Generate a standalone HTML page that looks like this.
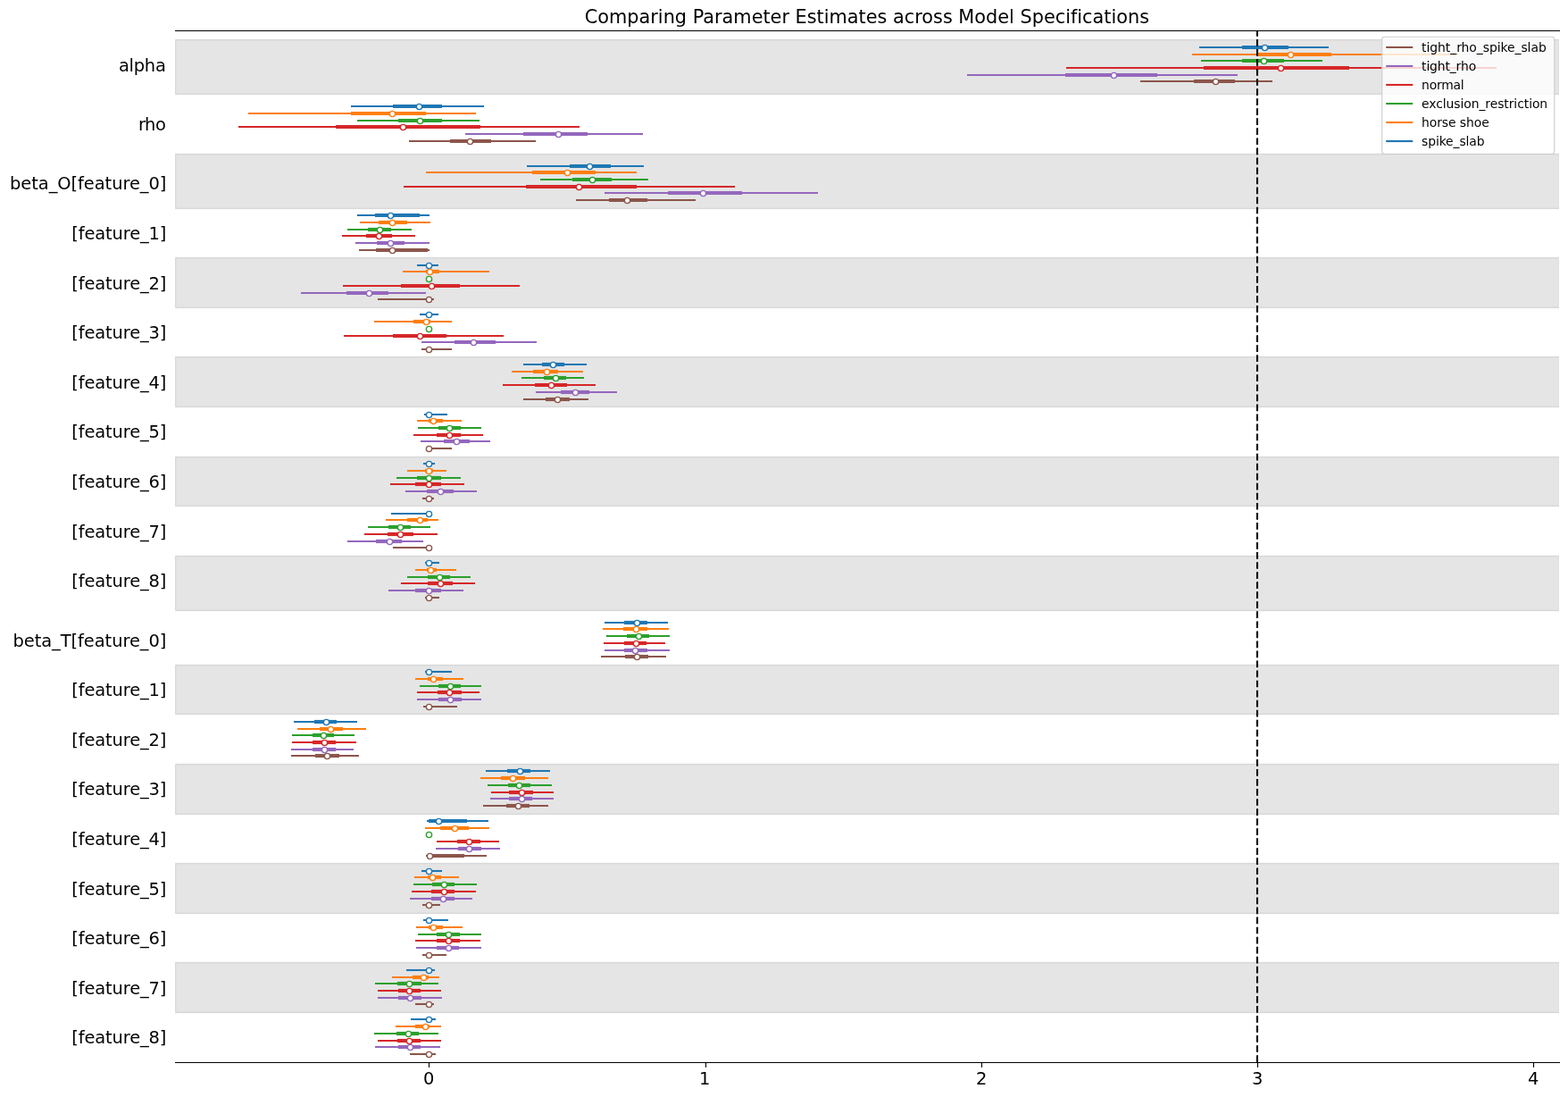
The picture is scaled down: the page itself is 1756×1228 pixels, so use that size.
<!DOCTYPE html>
<html lang="en"><head><meta charset="utf-8"><title>Comparing Parameter Estimates across Model Specifications</title>
<style>html,body{margin:0;padding:0;background:#fff}body{width:1756px;height:1228px;overflow:hidden}svg{display:block}text{font-family:"DejaVu Sans","Liberation Sans",sans-serif;fill:#000;font-variant-ligatures:none}</style></head><body>
<svg width="1756" height="1228" viewBox="0 0 1756 1228">
<rect width="1756" height="1228" fill="#fff"/>
<clipPath id="ax"><rect x="196" y="34" width="1550" height="1156"/></clipPath>
<g fill="#000" fill-opacity="0.1" stroke="#000" stroke-opacity="0.1" stroke-width="1.389" clip-path="url(#ax)">
<rect x="196.5" y="44.5" width="1550.0" height="61.0"/>
<rect x="196.5" y="172.5" width="1550.0" height="61.0"/>
<rect x="196.5" y="288.5" width="1550.0" height="56.0"/>
<rect x="196.5" y="399.5" width="1550.0" height="56.0"/>
<rect x="196.5" y="511.5" width="1550.0" height="55.0"/>
<rect x="196.5" y="622.5" width="1550.0" height="61.0"/>
<rect x="196.5" y="744.5" width="1550.0" height="55.0"/>
<rect x="196.5" y="855.5" width="1550.0" height="56.0"/>
<rect x="196.5" y="966.5" width="1550.0" height="56.0"/>
<rect x="196.5" y="1077.5" width="1550.0" height="56.0"/>
</g>
<g fill="none">
<path d="M1343 53H1488" stroke="#1f77b4" stroke-width="2.083"/>
<path d="M1391 53H1443" stroke="#1f77b4" stroke-width="4.167"/>
<path d="M1335 61H1633" stroke="#ff7f0e" stroke-width="2.083"/>
<path d="M1409 61H1491" stroke="#ff7f0e" stroke-width="4.167"/>
<path d="M1345 68H1481" stroke="#2ca02c" stroke-width="2.083"/>
<path d="M1391 68H1438" stroke="#2ca02c" stroke-width="4.167"/>
<path d="M1194 76H1676" stroke="#d62728" stroke-width="2.083"/>
<path d="M1348 76H1511" stroke="#d62728" stroke-width="4.167"/>
<path d="M1083 84H1386" stroke="#9467bd" stroke-width="2.083"/>
<path d="M1193 84H1296" stroke="#9467bd" stroke-width="4.167"/>
<path d="M1277 91H1425" stroke="#8c564b" stroke-width="2.083"/>
<path d="M1337 91H1383" stroke="#8c564b" stroke-width="4.167"/>
<path d="M393 119H542" stroke="#1f77b4" stroke-width="2.083"/>
<path d="M440 119H495" stroke="#1f77b4" stroke-width="4.167"/>
<path d="M278 127H533" stroke="#ff7f0e" stroke-width="2.083"/>
<path d="M393 127H477" stroke="#ff7f0e" stroke-width="4.167"/>
<path d="M400 135H537" stroke="#2ca02c" stroke-width="2.083"/>
<path d="M446 135H495" stroke="#2ca02c" stroke-width="4.167"/>
<path d="M267 142H649" stroke="#d62728" stroke-width="2.083"/>
<path d="M376 142H538" stroke="#d62728" stroke-width="4.167"/>
<path d="M521 150H720" stroke="#9467bd" stroke-width="2.083"/>
<path d="M586 150H658" stroke="#9467bd" stroke-width="4.167"/>
<path d="M458 158H600" stroke="#8c564b" stroke-width="2.083"/>
<path d="M504 158H550" stroke="#8c564b" stroke-width="4.167"/>
<path d="M590 186H721" stroke="#1f77b4" stroke-width="2.083"/>
<path d="M638 186H684" stroke="#1f77b4" stroke-width="4.167"/>
<path d="M477 193H713" stroke="#ff7f0e" stroke-width="2.083"/>
<path d="M596 193H667" stroke="#ff7f0e" stroke-width="4.167"/>
<path d="M605 201H726" stroke="#2ca02c" stroke-width="2.083"/>
<path d="M641 201H685" stroke="#2ca02c" stroke-width="4.167"/>
<path d="M452 209H823" stroke="#d62728" stroke-width="2.083"/>
<path d="M589 209H713" stroke="#d62728" stroke-width="4.167"/>
<path d="M677 216H916" stroke="#9467bd" stroke-width="2.083"/>
<path d="M748 216H831" stroke="#9467bd" stroke-width="4.167"/>
<path d="M645 224H779" stroke="#8c564b" stroke-width="2.083"/>
<path d="M682 224H725" stroke="#8c564b" stroke-width="4.167"/>
<path d="M400 241H481" stroke="#1f77b4" stroke-width="2.083"/>
<path d="M420 241H470" stroke="#1f77b4" stroke-width="4.167"/>
<path d="M403 249H482" stroke="#ff7f0e" stroke-width="2.083"/>
<path d="M424 249H456" stroke="#ff7f0e" stroke-width="4.167"/>
<path d="M389 257H461" stroke="#2ca02c" stroke-width="2.083"/>
<path d="M412 257H438" stroke="#2ca02c" stroke-width="4.167"/>
<path d="M383 264H465" stroke="#d62728" stroke-width="2.083"/>
<path d="M410 264H439" stroke="#d62728" stroke-width="4.167"/>
<path d="M398 272H481" stroke="#9467bd" stroke-width="2.083"/>
<path d="M422 272H453" stroke="#9467bd" stroke-width="4.167"/>
<path d="M402 280H481" stroke="#8c564b" stroke-width="2.083"/>
<path d="M421 280H479" stroke="#8c564b" stroke-width="4.167"/>
<path d="M467 297H491" stroke="#1f77b4" stroke-width="2.083"/>
<path d="M451 304H548" stroke="#ff7f0e" stroke-width="2.083"/>
<path d="M477 304H492" stroke="#ff7f0e" stroke-width="4.167"/>
<path d="M384 320H582" stroke="#d62728" stroke-width="2.083"/>
<path d="M449 320H515" stroke="#d62728" stroke-width="4.167"/>
<path d="M337 328H477" stroke="#9467bd" stroke-width="2.083"/>
<path d="M388 328H435" stroke="#9467bd" stroke-width="4.167"/>
<path d="M423 335H486" stroke="#8c564b" stroke-width="2.083"/>
<path d="M470 352H491" stroke="#1f77b4" stroke-width="2.083"/>
<path d="M419 360H506" stroke="#ff7f0e" stroke-width="2.083"/>
<path d="M463 360H482" stroke="#ff7f0e" stroke-width="4.167"/>
<path d="M385 376H564" stroke="#d62728" stroke-width="2.083"/>
<path d="M440 376H500" stroke="#d62728" stroke-width="4.167"/>
<path d="M472 383H601" stroke="#9467bd" stroke-width="2.083"/>
<path d="M509 383H555" stroke="#9467bd" stroke-width="4.167"/>
<path d="M472 391H506" stroke="#8c564b" stroke-width="2.083"/>
<path d="M586 408H657" stroke="#1f77b4" stroke-width="2.083"/>
<path d="M607 408H632" stroke="#1f77b4" stroke-width="4.167"/>
<path d="M573 416H653" stroke="#ff7f0e" stroke-width="2.083"/>
<path d="M597 416H625" stroke="#ff7f0e" stroke-width="4.167"/>
<path d="M584 423H654" stroke="#2ca02c" stroke-width="2.083"/>
<path d="M609 423H634" stroke="#2ca02c" stroke-width="4.167"/>
<path d="M563 431H667" stroke="#d62728" stroke-width="2.083"/>
<path d="M599 431H635" stroke="#d62728" stroke-width="4.167"/>
<path d="M600 439H691" stroke="#9467bd" stroke-width="2.083"/>
<path d="M628 439H660" stroke="#9467bd" stroke-width="4.167"/>
<path d="M586 447H659" stroke="#8c564b" stroke-width="2.083"/>
<path d="M611 447H638" stroke="#8c564b" stroke-width="4.167"/>
<path d="M475 464H501" stroke="#1f77b4" stroke-width="2.083"/>
<path d="M467 471H517" stroke="#ff7f0e" stroke-width="2.083"/>
<path d="M480 471H496" stroke="#ff7f0e" stroke-width="4.167"/>
<path d="M468 479H539" stroke="#2ca02c" stroke-width="2.083"/>
<path d="M491 479H516" stroke="#2ca02c" stroke-width="4.167"/>
<path d="M463 487H541" stroke="#d62728" stroke-width="2.083"/>
<path d="M489 487H516" stroke="#d62728" stroke-width="4.167"/>
<path d="M471 494H549" stroke="#9467bd" stroke-width="2.083"/>
<path d="M497 494H526" stroke="#9467bd" stroke-width="4.167"/>
<path d="M477 502H506" stroke="#8c564b" stroke-width="2.083"/>
<path d="M474 519H487" stroke="#1f77b4" stroke-width="2.083"/>
<path d="M456 527H500" stroke="#ff7f0e" stroke-width="2.083"/>
<path d="M476 527H485" stroke="#ff7f0e" stroke-width="4.167"/>
<path d="M444 535H516" stroke="#2ca02c" stroke-width="2.083"/>
<path d="M467 535H494" stroke="#2ca02c" stroke-width="4.167"/>
<path d="M437 542H520" stroke="#d62728" stroke-width="2.083"/>
<path d="M465 542H494" stroke="#d62728" stroke-width="4.167"/>
<path d="M454 550H534" stroke="#9467bd" stroke-width="2.083"/>
<path d="M478 550H508" stroke="#9467bd" stroke-width="4.167"/>
<path d="M473 558H486" stroke="#8c564b" stroke-width="2.083"/>
<path d="M438 575H480" stroke="#1f77b4" stroke-width="2.083"/>
<path d="M432 582H491" stroke="#ff7f0e" stroke-width="2.083"/>
<path d="M456 582H479" stroke="#ff7f0e" stroke-width="4.167"/>
<path d="M412 590H482" stroke="#2ca02c" stroke-width="2.083"/>
<path d="M435 590H460" stroke="#2ca02c" stroke-width="4.167"/>
<path d="M408 598H490" stroke="#d62728" stroke-width="2.083"/>
<path d="M434 598H463" stroke="#d62728" stroke-width="4.167"/>
<path d="M389 606H474" stroke="#9467bd" stroke-width="2.083"/>
<path d="M421 606H450" stroke="#9467bd" stroke-width="4.167"/>
<path d="M440 613H480" stroke="#8c564b" stroke-width="2.083"/>
<path d="M476 630H492" stroke="#1f77b4" stroke-width="2.083"/>
<path d="M465 638H511" stroke="#ff7f0e" stroke-width="2.083"/>
<path d="M478 638H489" stroke="#ff7f0e" stroke-width="4.167"/>
<path d="M456 646H527" stroke="#2ca02c" stroke-width="2.083"/>
<path d="M479 646H504" stroke="#2ca02c" stroke-width="4.167"/>
<path d="M449 653H532" stroke="#d62728" stroke-width="2.083"/>
<path d="M479 653H507" stroke="#d62728" stroke-width="4.167"/>
<path d="M435 661H519" stroke="#9467bd" stroke-width="2.083"/>
<path d="M465 661H494" stroke="#9467bd" stroke-width="4.167"/>
<path d="M476 669H492" stroke="#8c564b" stroke-width="2.083"/>
<path d="M677 697H748" stroke="#1f77b4" stroke-width="2.083"/>
<path d="M699 697H725" stroke="#1f77b4" stroke-width="4.167"/>
<path d="M675 704H749" stroke="#ff7f0e" stroke-width="2.083"/>
<path d="M698 704H725" stroke="#ff7f0e" stroke-width="4.167"/>
<path d="M679 712H750" stroke="#2ca02c" stroke-width="2.083"/>
<path d="M702 712H727" stroke="#2ca02c" stroke-width="4.167"/>
<path d="M676 720H745" stroke="#d62728" stroke-width="2.083"/>
<path d="M699 720H724" stroke="#d62728" stroke-width="4.167"/>
<path d="M677 728H750" stroke="#9467bd" stroke-width="2.083"/>
<path d="M699 728H725" stroke="#9467bd" stroke-width="4.167"/>
<path d="M673 735H746" stroke="#8c564b" stroke-width="2.083"/>
<path d="M700 735H726" stroke="#8c564b" stroke-width="4.167"/>
<path d="M476 752H506" stroke="#1f77b4" stroke-width="2.083"/>
<path d="M465 760H519" stroke="#ff7f0e" stroke-width="2.083"/>
<path d="M479 760H496" stroke="#ff7f0e" stroke-width="4.167"/>
<path d="M470 768H539" stroke="#2ca02c" stroke-width="2.083"/>
<path d="M491 768H516" stroke="#2ca02c" stroke-width="4.167"/>
<path d="M467 775H537" stroke="#d62728" stroke-width="2.083"/>
<path d="M490 775H517" stroke="#d62728" stroke-width="4.167"/>
<path d="M467 783H539" stroke="#9467bd" stroke-width="2.083"/>
<path d="M491 783H517" stroke="#9467bd" stroke-width="4.167"/>
<path d="M474 791H512" stroke="#8c564b" stroke-width="2.083"/>
<path d="M329 808H400" stroke="#1f77b4" stroke-width="2.083"/>
<path d="M352 808H377" stroke="#1f77b4" stroke-width="4.167"/>
<path d="M333 816H410" stroke="#ff7f0e" stroke-width="2.083"/>
<path d="M358 816H384" stroke="#ff7f0e" stroke-width="4.167"/>
<path d="M327 823H397" stroke="#2ca02c" stroke-width="2.083"/>
<path d="M350 823H374" stroke="#2ca02c" stroke-width="4.167"/>
<path d="M327 831H399" stroke="#d62728" stroke-width="2.083"/>
<path d="M350 831H376" stroke="#d62728" stroke-width="4.167"/>
<path d="M326 839H396" stroke="#9467bd" stroke-width="2.083"/>
<path d="M350 839H376" stroke="#9467bd" stroke-width="4.167"/>
<path d="M326 846H402" stroke="#8c564b" stroke-width="2.083"/>
<path d="M353 846H380" stroke="#8c564b" stroke-width="4.167"/>
<path d="M544 863H616" stroke="#1f77b4" stroke-width="2.083"/>
<path d="M568 863H594" stroke="#1f77b4" stroke-width="4.167"/>
<path d="M538 871H614" stroke="#ff7f0e" stroke-width="2.083"/>
<path d="M561 871H588" stroke="#ff7f0e" stroke-width="4.167"/>
<path d="M546 879H618" stroke="#2ca02c" stroke-width="2.083"/>
<path d="M569 879H594" stroke="#2ca02c" stroke-width="4.167"/>
<path d="M550 887H620" stroke="#d62728" stroke-width="2.083"/>
<path d="M570 887H597" stroke="#d62728" stroke-width="4.167"/>
<path d="M549 894H620" stroke="#9467bd" stroke-width="2.083"/>
<path d="M570 894H596" stroke="#9467bd" stroke-width="4.167"/>
<path d="M541 902H614" stroke="#8c564b" stroke-width="2.083"/>
<path d="M567 902H593" stroke="#8c564b" stroke-width="4.167"/>
<path d="M478 919H547" stroke="#1f77b4" stroke-width="2.083"/>
<path d="M480 919H523" stroke="#1f77b4" stroke-width="4.167"/>
<path d="M476 927H548" stroke="#ff7f0e" stroke-width="2.083"/>
<path d="M493 927H525" stroke="#ff7f0e" stroke-width="4.167"/>
<path d="M489 942H559" stroke="#d62728" stroke-width="2.083"/>
<path d="M512 942H538" stroke="#d62728" stroke-width="4.167"/>
<path d="M488 950H560" stroke="#9467bd" stroke-width="2.083"/>
<path d="M513 950H539" stroke="#9467bd" stroke-width="4.167"/>
<path d="M477 958H545" stroke="#8c564b" stroke-width="2.083"/>
<path d="M480 958H520" stroke="#8c564b" stroke-width="4.167"/>
<path d="M472 975H495" stroke="#1f77b4" stroke-width="2.083"/>
<path d="M464 982H514" stroke="#ff7f0e" stroke-width="2.083"/>
<path d="M479 982H494" stroke="#ff7f0e" stroke-width="4.167"/>
<path d="M463 990H534" stroke="#2ca02c" stroke-width="2.083"/>
<path d="M484 990H509" stroke="#2ca02c" stroke-width="4.167"/>
<path d="M461 998H533" stroke="#d62728" stroke-width="2.083"/>
<path d="M483 998H509" stroke="#d62728" stroke-width="4.167"/>
<path d="M459 1006H529" stroke="#9467bd" stroke-width="2.083"/>
<path d="M483 1006H509" stroke="#9467bd" stroke-width="4.167"/>
<path d="M473 1013H493" stroke="#8c564b" stroke-width="2.083"/>
<path d="M474 1030H502" stroke="#1f77b4" stroke-width="2.083"/>
<path d="M466 1038H518" stroke="#ff7f0e" stroke-width="2.083"/>
<path d="M480 1038H496" stroke="#ff7f0e" stroke-width="4.167"/>
<path d="M468 1046H539" stroke="#2ca02c" stroke-width="2.083"/>
<path d="M489 1046H515" stroke="#2ca02c" stroke-width="4.167"/>
<path d="M465 1053H538" stroke="#d62728" stroke-width="2.083"/>
<path d="M489 1053H515" stroke="#d62728" stroke-width="4.167"/>
<path d="M466 1061H539" stroke="#9467bd" stroke-width="2.083"/>
<path d="M489 1061H514" stroke="#9467bd" stroke-width="4.167"/>
<path d="M473 1069H500" stroke="#8c564b" stroke-width="2.083"/>
<path d="M455 1086H487" stroke="#1f77b4" stroke-width="2.083"/>
<path d="M439 1094H492" stroke="#ff7f0e" stroke-width="2.083"/>
<path d="M462 1094H480" stroke="#ff7f0e" stroke-width="4.167"/>
<path d="M420 1101H491" stroke="#2ca02c" stroke-width="2.083"/>
<path d="M445 1101H472" stroke="#2ca02c" stroke-width="4.167"/>
<path d="M423 1109H494" stroke="#d62728" stroke-width="2.083"/>
<path d="M446 1109H471" stroke="#d62728" stroke-width="4.167"/>
<path d="M423 1117H495" stroke="#9467bd" stroke-width="2.083"/>
<path d="M446 1117H472" stroke="#9467bd" stroke-width="4.167"/>
<path d="M465 1124H486" stroke="#8c564b" stroke-width="2.083"/>
<path d="M460 1141H488" stroke="#1f77b4" stroke-width="2.083"/>
<path d="M443 1149H494" stroke="#ff7f0e" stroke-width="2.083"/>
<path d="M465 1149H481" stroke="#ff7f0e" stroke-width="4.167"/>
<path d="M419 1157H491" stroke="#2ca02c" stroke-width="2.083"/>
<path d="M444 1157H469" stroke="#2ca02c" stroke-width="4.167"/>
<path d="M423 1165H494" stroke="#d62728" stroke-width="2.083"/>
<path d="M445 1165H471" stroke="#d62728" stroke-width="4.167"/>
<path d="M420 1172H493" stroke="#9467bd" stroke-width="2.083"/>
<path d="M446 1172H471" stroke="#9467bd" stroke-width="4.167"/>
<path d="M459 1180H488" stroke="#8c564b" stroke-width="2.083"/>
</g>
<g fill="#fff" stroke-width="1.389">
<circle cx="1416.5" cy="53.5" r="3.125" stroke="#1f77b4"/>
<circle cx="1445.5" cy="61.5" r="3.125" stroke="#ff7f0e"/>
<circle cx="1415.5" cy="68.5" r="3.125" stroke="#2ca02c"/>
<circle cx="1434.5" cy="76.5" r="3.125" stroke="#d62728"/>
<circle cx="1247.5" cy="84.5" r="3.125" stroke="#9467bd"/>
<circle cx="1361.5" cy="91.5" r="3.125" stroke="#8c564b"/>
<circle cx="469.5" cy="119.5" r="3.125" stroke="#1f77b4"/>
<circle cx="439.5" cy="127.5" r="3.125" stroke="#ff7f0e"/>
<circle cx="470.5" cy="135.5" r="3.125" stroke="#2ca02c"/>
<circle cx="451.5" cy="142.5" r="3.125" stroke="#d62728"/>
<circle cx="625.5" cy="150.5" r="3.125" stroke="#9467bd"/>
<circle cx="526.5" cy="158.5" r="3.125" stroke="#8c564b"/>
<circle cx="660.5" cy="186.5" r="3.125" stroke="#1f77b4"/>
<circle cx="635.5" cy="193.5" r="3.125" stroke="#ff7f0e"/>
<circle cx="663.5" cy="201.5" r="3.125" stroke="#2ca02c"/>
<circle cx="648.5" cy="209.5" r="3.125" stroke="#d62728"/>
<circle cx="787.5" cy="216.5" r="3.125" stroke="#9467bd"/>
<circle cx="702.5" cy="224.5" r="3.125" stroke="#8c564b"/>
<circle cx="437.5" cy="241.5" r="3.125" stroke="#1f77b4"/>
<circle cx="439.5" cy="249.5" r="3.125" stroke="#ff7f0e"/>
<circle cx="425.5" cy="257.5" r="3.125" stroke="#2ca02c"/>
<circle cx="424.5" cy="264.5" r="3.125" stroke="#d62728"/>
<circle cx="437.5" cy="272.5" r="3.125" stroke="#9467bd"/>
<circle cx="439.5" cy="280.5" r="3.125" stroke="#8c564b"/>
<circle cx="480.5" cy="297.5" r="3.125" stroke="#1f77b4"/>
<circle cx="481.5" cy="304.5" r="3.125" stroke="#ff7f0e"/>
<circle cx="480.5" cy="312.5" r="3.125" stroke="#2ca02c"/>
<circle cx="483.5" cy="320.5" r="3.125" stroke="#d62728"/>
<circle cx="413.5" cy="328.5" r="3.125" stroke="#9467bd"/>
<circle cx="480.5" cy="335.5" r="3.125" stroke="#8c564b"/>
<circle cx="480.5" cy="352.5" r="3.125" stroke="#1f77b4"/>
<circle cx="477.5" cy="360.5" r="3.125" stroke="#ff7f0e"/>
<circle cx="480.5" cy="368.5" r="3.125" stroke="#2ca02c"/>
<circle cx="470.5" cy="376.5" r="3.125" stroke="#d62728"/>
<circle cx="530.5" cy="383.5" r="3.125" stroke="#9467bd"/>
<circle cx="480.5" cy="391.5" r="3.125" stroke="#8c564b"/>
<circle cx="619.5" cy="408.5" r="3.125" stroke="#1f77b4"/>
<circle cx="612.5" cy="416.5" r="3.125" stroke="#ff7f0e"/>
<circle cx="622.5" cy="423.5" r="3.125" stroke="#2ca02c"/>
<circle cx="617.5" cy="431.5" r="3.125" stroke="#d62728"/>
<circle cx="644.5" cy="439.5" r="3.125" stroke="#9467bd"/>
<circle cx="624.5" cy="447.5" r="3.125" stroke="#8c564b"/>
<circle cx="480.5" cy="464.5" r="3.125" stroke="#1f77b4"/>
<circle cx="485.5" cy="471.5" r="3.125" stroke="#ff7f0e"/>
<circle cx="503.5" cy="479.5" r="3.125" stroke="#2ca02c"/>
<circle cx="503.5" cy="487.5" r="3.125" stroke="#d62728"/>
<circle cx="511.5" cy="494.5" r="3.125" stroke="#9467bd"/>
<circle cx="480.5" cy="502.5" r="3.125" stroke="#8c564b"/>
<circle cx="480.5" cy="519.5" r="3.125" stroke="#1f77b4"/>
<circle cx="480.5" cy="527.5" r="3.125" stroke="#ff7f0e"/>
<circle cx="480.5" cy="535.5" r="3.125" stroke="#2ca02c"/>
<circle cx="480.5" cy="542.5" r="3.125" stroke="#d62728"/>
<circle cx="493.5" cy="550.5" r="3.125" stroke="#9467bd"/>
<circle cx="480.5" cy="558.5" r="3.125" stroke="#8c564b"/>
<circle cx="480.5" cy="575.5" r="3.125" stroke="#1f77b4"/>
<circle cx="470.5" cy="582.5" r="3.125" stroke="#ff7f0e"/>
<circle cx="448.5" cy="590.5" r="3.125" stroke="#2ca02c"/>
<circle cx="448.5" cy="598.5" r="3.125" stroke="#d62728"/>
<circle cx="436.5" cy="606.5" r="3.125" stroke="#9467bd"/>
<circle cx="480.5" cy="613.5" r="3.125" stroke="#8c564b"/>
<circle cx="480.5" cy="630.5" r="3.125" stroke="#1f77b4"/>
<circle cx="482.5" cy="638.5" r="3.125" stroke="#ff7f0e"/>
<circle cx="492.5" cy="646.5" r="3.125" stroke="#2ca02c"/>
<circle cx="493.5" cy="653.5" r="3.125" stroke="#d62728"/>
<circle cx="480.5" cy="661.5" r="3.125" stroke="#9467bd"/>
<circle cx="480.5" cy="669.5" r="3.125" stroke="#8c564b"/>
<circle cx="713.5" cy="697.5" r="3.125" stroke="#1f77b4"/>
<circle cx="712.5" cy="704.5" r="3.125" stroke="#ff7f0e"/>
<circle cx="715.5" cy="712.5" r="3.125" stroke="#2ca02c"/>
<circle cx="712.5" cy="720.5" r="3.125" stroke="#d62728"/>
<circle cx="711.5" cy="728.5" r="3.125" stroke="#9467bd"/>
<circle cx="713.5" cy="735.5" r="3.125" stroke="#8c564b"/>
<circle cx="480.5" cy="752.5" r="3.125" stroke="#1f77b4"/>
<circle cx="485.5" cy="760.5" r="3.125" stroke="#ff7f0e"/>
<circle cx="504.5" cy="768.5" r="3.125" stroke="#2ca02c"/>
<circle cx="503.5" cy="775.5" r="3.125" stroke="#d62728"/>
<circle cx="504.5" cy="783.5" r="3.125" stroke="#9467bd"/>
<circle cx="480.5" cy="791.5" r="3.125" stroke="#8c564b"/>
<circle cx="365.5" cy="808.5" r="3.125" stroke="#1f77b4"/>
<circle cx="370.5" cy="816.5" r="3.125" stroke="#ff7f0e"/>
<circle cx="362.5" cy="823.5" r="3.125" stroke="#2ca02c"/>
<circle cx="363.5" cy="831.5" r="3.125" stroke="#d62728"/>
<circle cx="363.5" cy="839.5" r="3.125" stroke="#9467bd"/>
<circle cx="366.5" cy="846.5" r="3.125" stroke="#8c564b"/>
<circle cx="582.5" cy="863.5" r="3.125" stroke="#1f77b4"/>
<circle cx="574.5" cy="871.5" r="3.125" stroke="#ff7f0e"/>
<circle cx="581.5" cy="879.5" r="3.125" stroke="#2ca02c"/>
<circle cx="584.5" cy="887.5" r="3.125" stroke="#d62728"/>
<circle cx="584.5" cy="894.5" r="3.125" stroke="#9467bd"/>
<circle cx="580.5" cy="902.5" r="3.125" stroke="#8c564b"/>
<circle cx="491.5" cy="919.5" r="3.125" stroke="#1f77b4"/>
<circle cx="509.5" cy="927.5" r="3.125" stroke="#ff7f0e"/>
<circle cx="480.5" cy="934.5" r="3.125" stroke="#2ca02c"/>
<circle cx="525.5" cy="942.5" r="3.125" stroke="#d62728"/>
<circle cx="525.5" cy="950.5" r="3.125" stroke="#9467bd"/>
<circle cx="481.5" cy="958.5" r="3.125" stroke="#8c564b"/>
<circle cx="480.5" cy="975.5" r="3.125" stroke="#1f77b4"/>
<circle cx="484.5" cy="982.5" r="3.125" stroke="#ff7f0e"/>
<circle cx="497.5" cy="990.5" r="3.125" stroke="#2ca02c"/>
<circle cx="497.5" cy="998.5" r="3.125" stroke="#d62728"/>
<circle cx="496.5" cy="1006.5" r="3.125" stroke="#9467bd"/>
<circle cx="480.5" cy="1013.5" r="3.125" stroke="#8c564b"/>
<circle cx="480.5" cy="1030.5" r="3.125" stroke="#1f77b4"/>
<circle cx="485.5" cy="1038.5" r="3.125" stroke="#ff7f0e"/>
<circle cx="502.5" cy="1046.5" r="3.125" stroke="#2ca02c"/>
<circle cx="502.5" cy="1053.5" r="3.125" stroke="#d62728"/>
<circle cx="502.5" cy="1061.5" r="3.125" stroke="#9467bd"/>
<circle cx="480.5" cy="1069.5" r="3.125" stroke="#8c564b"/>
<circle cx="480.5" cy="1086.5" r="3.125" stroke="#1f77b4"/>
<circle cx="474.5" cy="1094.5" r="3.125" stroke="#ff7f0e"/>
<circle cx="458.5" cy="1101.5" r="3.125" stroke="#2ca02c"/>
<circle cx="458.5" cy="1109.5" r="3.125" stroke="#d62728"/>
<circle cx="459.5" cy="1117.5" r="3.125" stroke="#9467bd"/>
<circle cx="480.5" cy="1124.5" r="3.125" stroke="#8c564b"/>
<circle cx="480.5" cy="1141.5" r="3.125" stroke="#1f77b4"/>
<circle cx="476.5" cy="1149.5" r="3.125" stroke="#ff7f0e"/>
<circle cx="457.5" cy="1157.5" r="3.125" stroke="#2ca02c"/>
<circle cx="458.5" cy="1165.5" r="3.125" stroke="#d62728"/>
<circle cx="459.5" cy="1172.5" r="3.125" stroke="#9467bd"/>
<circle cx="480.5" cy="1180.5" r="3.125" stroke="#8c564b"/>
</g>
<path d="M1408 1188.9 V34.5" stroke="#000" stroke-width="2.083" stroke-dasharray="7.708 3.333" fill="none"/>
<path d="M196 34.5H1747 M196 1189.5H1747" stroke="#000" stroke-width="1.111" fill="none"/>
<path d="M480.5 1189.5V1194.9" stroke="#000" stroke-width="1.111" fill="none"/>
<text x="480.10" y="1214" font-size="19.444" text-anchor="middle">0</text>
<path d="M790.5 1189.5V1194.9" stroke="#000" stroke-width="1.111" fill="none"/>
<text x="789.20" y="1214" font-size="19.444" text-anchor="middle">1</text>
<path d="M1099.5 1189.5V1194.9" stroke="#000" stroke-width="1.111" fill="none"/>
<text x="1099.15" y="1214" font-size="19.444" text-anchor="middle">2</text>
<path d="M1408.5 1189.5V1194.9" stroke="#000" stroke-width="1.111" fill="none"/>
<text x="1408.25" y="1214" font-size="19.444" text-anchor="middle">3</text>
<path d="M1717.5 1189.5V1194.9" stroke="#000" stroke-width="1.111" fill="none"/>
<text x="1717.30" y="1214" font-size="19.444" text-anchor="middle">4</text>
<text x="132.90" y="80" font-size="19.444" textLength="52.90">alpha</text>
<text x="154.93" y="146" font-size="19.444" textLength="30.87">rho</text>
<text x="11.06" y="212" font-size="19.444" textLength="175.34">beta_O[feature_0]</text>
<text x="80.34" y="268" font-size="19.444" textLength="106.06">[feature_1]</text>
<text x="80.34" y="324" font-size="19.444" textLength="106.06">[feature_2]</text>
<text x="80.34" y="379" font-size="19.444" textLength="106.06">[feature_3]</text>
<text x="80.34" y="435" font-size="19.444" textLength="106.06">[feature_4]</text>
<text x="80.34" y="490" font-size="19.444" textLength="106.06">[feature_5]</text>
<text x="80.34" y="546" font-size="19.444" textLength="106.06">[feature_6]</text>
<text x="80.34" y="602" font-size="19.444" textLength="106.06">[feature_7]</text>
<text x="80.34" y="657" font-size="19.444" textLength="106.06">[feature_8]</text>
<text x="14.49" y="724" font-size="19.444" textLength="171.91">beta_T[feature_0]</text>
<text x="80.34" y="779" font-size="19.444" textLength="106.06">[feature_1]</text>
<text x="80.34" y="835" font-size="19.444" textLength="106.06">[feature_2]</text>
<text x="80.34" y="890" font-size="19.444" textLength="106.06">[feature_3]</text>
<text x="80.34" y="946" font-size="19.444" textLength="106.06">[feature_4]</text>
<text x="80.34" y="1002" font-size="19.444" textLength="106.06">[feature_5]</text>
<text x="80.34" y="1057" font-size="19.444" textLength="106.06">[feature_6]</text>
<text x="80.34" y="1113" font-size="19.444" textLength="106.06">[feature_7]</text>
<text x="80.34" y="1168" font-size="19.444" textLength="106.06">[feature_8]</text>
<text x="654.75" y="26.2" font-size="20.833" textLength="632.27">Comparing Parameter Estimates across Model Specifications</text>
<rect x="1547.65" y="41.4" width="193.1" height="130.95" rx="2.78" ry="2.78" fill="#fff" fill-opacity="0.8" stroke="#ccc" stroke-opacity="0.8" stroke-width="1.389"/>
<path d="M1553.2 52.95H1581.2" stroke="#8c564b" stroke-width="2.083" stroke-linecap="square" fill="none"/>
<text x="1592.05" y="57.85" font-size="13.889" textLength="139.65">tight_rho_spike_slab</text>
<path d="M1553.2 73.97H1581.2" stroke="#9467bd" stroke-width="2.083" stroke-linecap="square" fill="none"/>
<text x="1592.05" y="78.87" font-size="13.889" textLength="61.08">tight_rho</text>
<path d="M1553.2 94.99H1581.2" stroke="#d62728" stroke-width="2.083" stroke-linecap="square" fill="none"/>
<text x="1592.05" y="99.89" font-size="13.889" textLength="47.67">normal</text>
<path d="M1553.2 116.01H1581.2" stroke="#2ca02c" stroke-width="2.083" stroke-linecap="square" fill="none"/>
<text x="1592.05" y="120.91" font-size="13.889" textLength="141.11">exclusion_restriction</text>
<path d="M1553.2 137.03H1581.2" stroke="#ff7f0e" stroke-width="2.083" stroke-linecap="square" fill="none"/>
<text x="1592.05" y="141.93" font-size="13.889" textLength="75.69">horse shoe</text>
<path d="M1553.2 158.05H1581.2" stroke="#1f77b4" stroke-width="2.083" stroke-linecap="square" fill="none"/>
<text x="1592.05" y="162.95" font-size="13.889" textLength="70.47">spike_slab</text>
</svg></body></html>
